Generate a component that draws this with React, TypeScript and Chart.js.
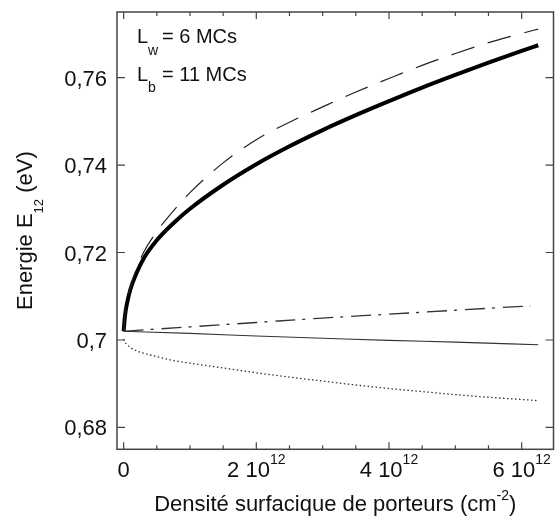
import React, { useEffect, useRef } from "react";
import { Chart, registerables } from "chart.js";

Chart.register(...registerables);

// x in units of 10^12 cm^-2
const xValues = [0, 0.02, 0.05, 0.1, 0.2, 0.3, 0.5, 0.75, 1, 1.5, 2, 2.5, 3, 3.5, 4, 4.5, 5, 5.5, 6, 6.25];
const thickSolid = [0.702, 0.7055, 0.7083, 0.7115, 0.7155, 0.7186, 0.7228, 0.7267, 0.73, 0.7355, 0.7402, 0.7443, 0.748, 0.7514, 0.7546, 0.7577, 0.7606, 0.7634, 0.7661, 0.7674];
const longDashed = [0.702, 0.7058, 0.7088, 0.712, 0.7165, 0.72, 0.7248, 0.7295, 0.7337, 0.7405, 0.7458, 0.7498, 0.7533, 0.7567, 0.7598, 0.7628, 0.7655, 0.768, 0.7701, 0.7711];
const dotted = [0.7002, 0.6995, 0.699, 0.6983, 0.6975, 0.697, 0.6962, 0.6953, 0.6947, 0.6936, 0.6925, 0.6915, 0.6906, 0.6897, 0.6889, 0.6882, 0.6875, 0.6869, 0.6864, 0.6861];
const dashDotX = [0, 1, 2, 3, 4, 5, 6.13];
const dashDot = [0.702, 0.703, 0.704, 0.705, 0.7059, 0.7068, 0.7078];
const thinX = [0, 1, 2, 3, 4, 5, 6.25];
const thinSolid = [0.702, 0.7015, 0.7009, 0.7004, 0.6999, 0.6995, 0.6989];

const xMajorTicks = [0, 2, 4, 6];
const xMajorLabels = ["0", "2 10", "4 10", "6 10"];
const xMajorExp = ["", "12", "12", "12"];
const xMinorTicks = [0.5, 1, 1.5, 2.5, 3, 3.5, 4.5, 5, 5.5];
const yMajorTicks = [0.68, 0.7, 0.72, 0.74, 0.76];
const yMajorLabels = ["0,68", "0,7", "0,72", "0,74", "0,76"];

const FONT = "'Liberation Sans', Arial, sans-serif";

type Part = { text: string; size: number; dy?: number };

function drawParts(ctx: CanvasRenderingContext2D, parts: Part[], x: number, y: number, align: "left" | "center" | "right") {
  let total = 0;
  const widths = parts.map((p) => {
    ctx.font = `${p.size}px ${FONT}`;
    const w = ctx.measureText(p.text).width;
    total += w;
    return w;
  });
  let cx = align === "left" ? x : align === "center" ? x - total / 2 : x - total;
  ctx.textAlign = "left";
  parts.forEach((p, i) => {
    ctx.font = `${p.size}px ${FONT}`;
    ctx.fillText(p.text, cx, y + (p.dy || 0));
    cx += widths[i];
  });
}

const framePlugin = {
  id: "frameAndText",
  afterDraw(chart: any) {
    const { ctx, chartArea: a, scales } = chart;
    const xs = scales.x;
    const ys = scales.y;
    ctx.save();
    ctx.strokeStyle = "#444";
    ctx.lineWidth = 1.5;
    ctx.strokeRect(a.left, a.top, a.right - a.left, a.bottom - a.top);
    ctx.lineWidth = 1.2;
    ctx.beginPath();
    const xTick = (v: number, len: number) => {
      const px = xs.getPixelForValue(v);
      ctx.moveTo(px, a.bottom);
      ctx.lineTo(px, a.bottom - len);
      ctx.moveTo(px, a.top);
      ctx.lineTo(px, a.top + len);
    };
    xMajorTicks.forEach((v) => xTick(v, 7));
    xMinorTicks.forEach((v) => xTick(v, 4));
    yMajorTicks.forEach((v) => {
      const py = ys.getPixelForValue(v);
      ctx.moveTo(a.left, py);
      ctx.lineTo(a.left + 8, py);
      ctx.moveTo(a.right, py);
      ctx.lineTo(a.right - 8, py);
    });
    ctx.stroke();

    ctx.fillStyle = "#111";
    ctx.textBaseline = "alphabetic";
    // y tick labels
    yMajorTicks.forEach((v, i) => {
      const py = ys.getPixelForValue(v);
      drawParts(ctx, [{ text: yMajorLabels[i], size: 22 }], a.left - 10, py + 8, "right");
    });
    // x tick labels
    xMajorTicks.forEach((v, i) => {
      const px = xs.getPixelForValue(v);
      const parts: Part[] = [{ text: xMajorLabels[i], size: 22 }];
      if (xMajorExp[i]) parts.push({ text: xMajorExp[i], size: 14, dy: -13 });
      drawParts(ctx, parts, px, a.bottom + 28, "center");
    });
    // x title
    drawParts(
      ctx,
      [
        { text: "Densité surfacique de porteurs (cm", size: 22 },
        { text: "-2", size: 14, dy: -11 },
        { text: ")", size: 22 },
      ],
      (a.left + a.right) / 2,
      511,
      "center"
    );
    // y title
    ctx.save();
    ctx.translate(32, (a.top + a.bottom) / 2);
    ctx.rotate(-Math.PI / 2);
    drawParts(
      ctx,
      [
        { text: "Energie E", size: 22 },
        { text: "12", size: 13, dy: 11 },
        { text: " (eV)", size: 22 },
      ],
      0,
      0,
      "center"
    );
    ctx.restore();
    // annotation
    drawParts(ctx, [{ text: "L", size: 20 }, { text: "w", size: 14, dy: 12 }], a.left + 20, 43, "left");
    drawParts(ctx, [{ text: "= 6 MCs", size: 20 }], a.left + 45, 43, "left");
    drawParts(ctx, [{ text: "L", size: 20 }, { text: "b", size: 14, dy: 11 }], a.left + 20, 81, "left");
    drawParts(ctx, [{ text: "= 11 MCs", size: 20 }], a.left + 45, 81, "left");
    ctx.restore();
  },
};

export default function App() {
  const ref = useRef<HTMLCanvasElement | null>(null);
  useEffect(() => {
    if (!ref.current) return;
    const line = (xv: number[], yv: number[], extra: any) => ({
      data: xv.map((x, i) => ({ x, y: yv[i] })),
      showLine: true,
      pointRadius: 0,
      cubicInterpolationMode: "monotone",
      borderCapStyle: "butt",
      borderJoinStyle: "round",
      fill: false,
      ...extra,
    });
    const chart = new Chart(ref.current, {
      type: "scatter",
      data: {
        datasets: [
          line(xValues, dotted, { borderColor: "#333", borderWidth: 1.3, borderDash: [1.5, 2.5] }),
          line(thinX, thinSolid, { borderColor: "#333", borderWidth: 1.1 }),
          line(dashDotX, dashDot, { borderColor: "#333", borderWidth: 1.3, borderDash: [20, 7, 3, 8] }),
          line(xValues, longDashed, { borderColor: "#222", borderWidth: 1.2, borderDash: [24, 14] }),
          line(xValues, thickSolid, { borderColor: "#000", borderWidth: 4 }),
        ],
      },
      options: {
        responsive: false,
        animation: false,
        devicePixelRatio: 1,
        layout: { padding: { top: 12, right: 1.5, left: 0, bottom: 0 } },
        plugins: { legend: { display: false }, tooltip: { enabled: false } },
        scales: {
          x: {
            type: "linear",
            min: -0.1,
            max: 6.48,
            ticks: { display: false },
            grid: { display: false },
            border: { display: false },
            afterFit: (s: any) => {
              s.height = 66.7;
            },
          },
          y: {
            type: "linear",
            min: 0.675,
            max: 0.775,
            ticks: { display: false },
            grid: { display: false },
            border: { display: false },
            afterFit: (s: any) => {
              s.width = 117;
            },
          },
        },
      } as any,
      plugins: [framePlugin],
    });
    return () => chart.destroy();
  }, []);
  return (
    <div style={{ position: "absolute", left: 0, top: 0, width: 555, height: 516, background: "#fff" }}>
      <canvas ref={ref} width={555} height={516} />
    </div>
  );
}
